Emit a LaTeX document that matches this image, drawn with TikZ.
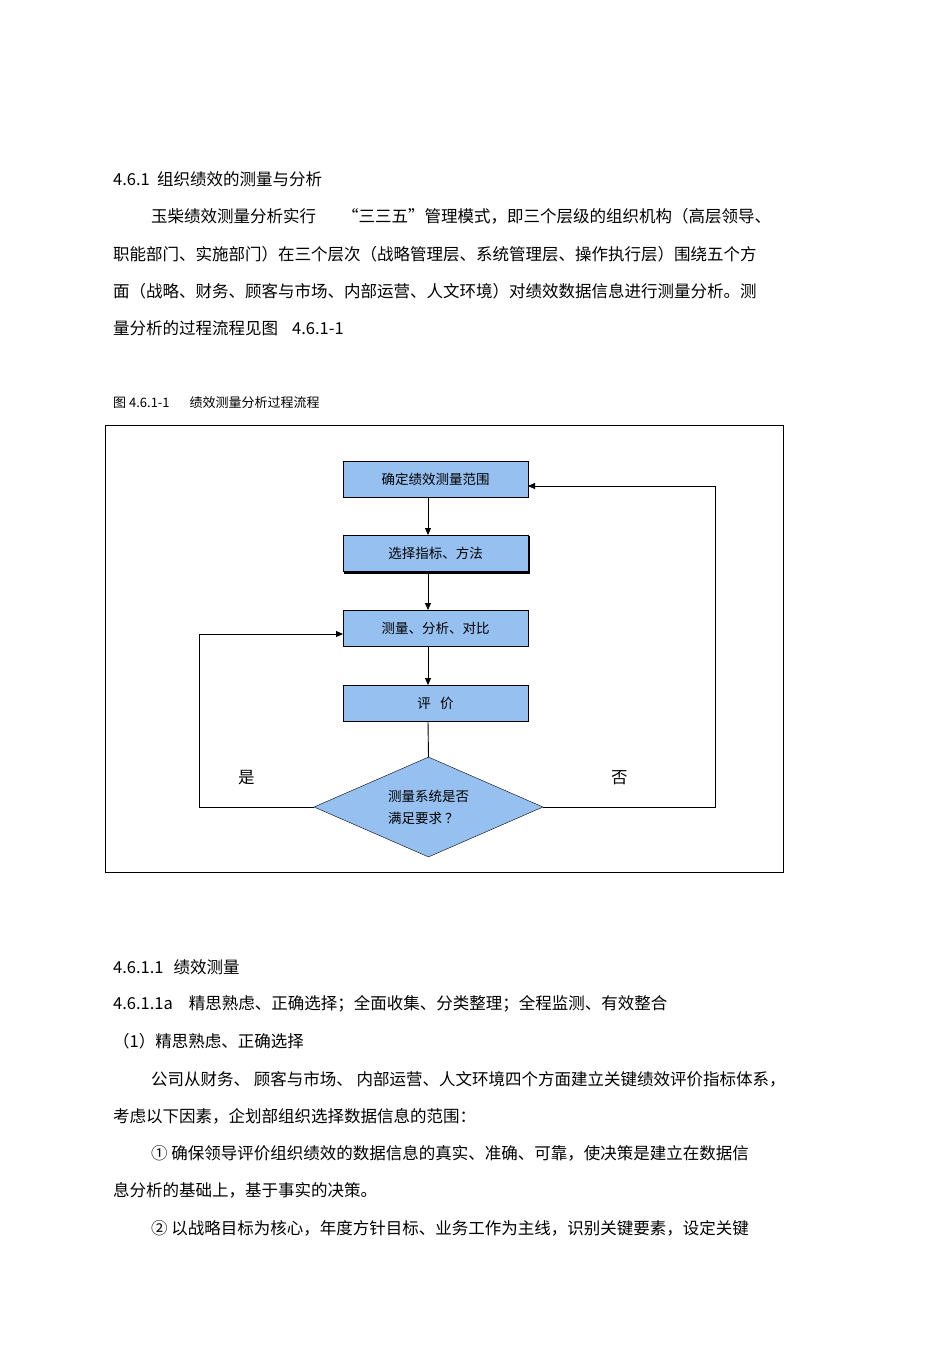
\documentclass[tikz,border=0pt]{standalone}
\usepackage{fontspec}
\setmainfont{Noto Sans CJK SC}
\usetikzlibrary{shapes.geometric,arrows.meta}
\tikzset{
 txt/.style={anchor=west,inner sep=0pt,font=\fontsize{16.5}{18}\selectfont},
 sm/.style={anchor=west,inner sep=0pt,font=\fontsize{13}{15}\selectfont},
 box/.style={draw,fill=boxblue,minimum width=185pt,minimum height=36pt,inner sep=0pt,font=\fontsize{13.5}{15}\selectfont},
 arr/.style={-{Triangle[length=7pt,width=6pt]},line width=0.9pt},
 ln/.style={line width=0.9pt}
}
\definecolor{boxblue}{RGB}{150,192,240}
\begin{document}
\begin{tikzpicture}[x=1pt,y=-1pt]
\useasboundingbox (0,0) rectangle (950,1345);
\node[txt] (h1) at (113,179) {4.6.1\ \ 组织绩效的测量与分析};
\node[txt] (p1) at (151,216) {玉柴绩效测量分析实行\hspace{26pt}“三三五”管理模式，即三个层级的组织机构（高层领导、};
\node[txt] (p2) at (113,254) {职能部门、实施部门）在三个层次（战略管理层、系统管理层、操作执行层）围绕五个方};
\node[txt] (p3) at (113,291) {面（战略、财务、顾客与市场、内部运营、人文环境）对绩效数据信息进行测量分析。测};
\node[txt] (p4) at (113,328) {量分析的过程流程见图\hspace{14pt}4.6.1-1};
\node[sm] (cap) at (113,403) {图 4.6.1-1\hspace{20pt}绩效测量分析过程流程};
\draw[line width=0.7pt] (105,425) rectangle (783,872);
\node[box] (b1) at (435.5,479) {确定绩效测量范围};
\draw[line width=1.6pt] (344,573) -- (529,573) -- (529,536);
\node[box] (b2) at (435.5,553.5) {选择指标、方法};
\node[box] (b3) at (435.5,628.5) {测量、分析、对比};
\node[box] (b4) at (435.5,703) {评\ \ \ 价};
\node[diamond,draw,fill=boxblue,minimum width=229pt,minimum height=100pt,inner sep=0pt,aspect=2.29,font=\fontsize{13.5}{22}\selectfont,align=left] (d) at (428.5,807) {测量系统是否\\满足要求 ？};
\draw[arr] (428,497) -- (428,535);
\draw[arr] (428,572) -- (428,610);
\draw[arr] (428,647) -- (428,685);
\draw[ln] (428,721) -- (d.north);
\draw[arr] (d.west) -- (199,807) -- (199,634) -- (343,634);
\draw[arr] (d.east) -- (715,807) -- (715,486) -- (528,486);
\node[txt] (yes) at (238,778) {是};
\node[txt] (no) at (611,778) {否};
\node[txt] (h2) at (113,967) {4.6.1.1\hspace{10pt}绩效测量};
\node[txt] (h3) at (113,1004) {4.6.1.1a\hspace{16pt}精思熟虑、正确选择；全面收集、分类整理；全程监测、有效整合};
\node[txt] (q1) at (113,1041) {（1）精思熟虑、正确选择};
\node[txt] (q2) at (151,1079) {公司从财务、 顾客与市场、 内部运营、人文环境四个方面建立关键绩效评价指标体系，};
\node[txt] (q3) at (113,1116) {考虑以下因素，企划部组织选择数据信息的范围：};
\node[txt] (q4) at (151,1153) {① 确保领导评价组织绩效的数据信息的真实、准确、可靠，使决策是建立在数据信};
\node[txt] (q5) at (113,1190) {息分析的基础上，基于事实的决策。};
\node[txt] (q6) at (151,1228) {② 以战略目标为核心，年度方针目标、业务工作为主线，识别关键要素，设定关键};
\end{tikzpicture}
\end{document}
